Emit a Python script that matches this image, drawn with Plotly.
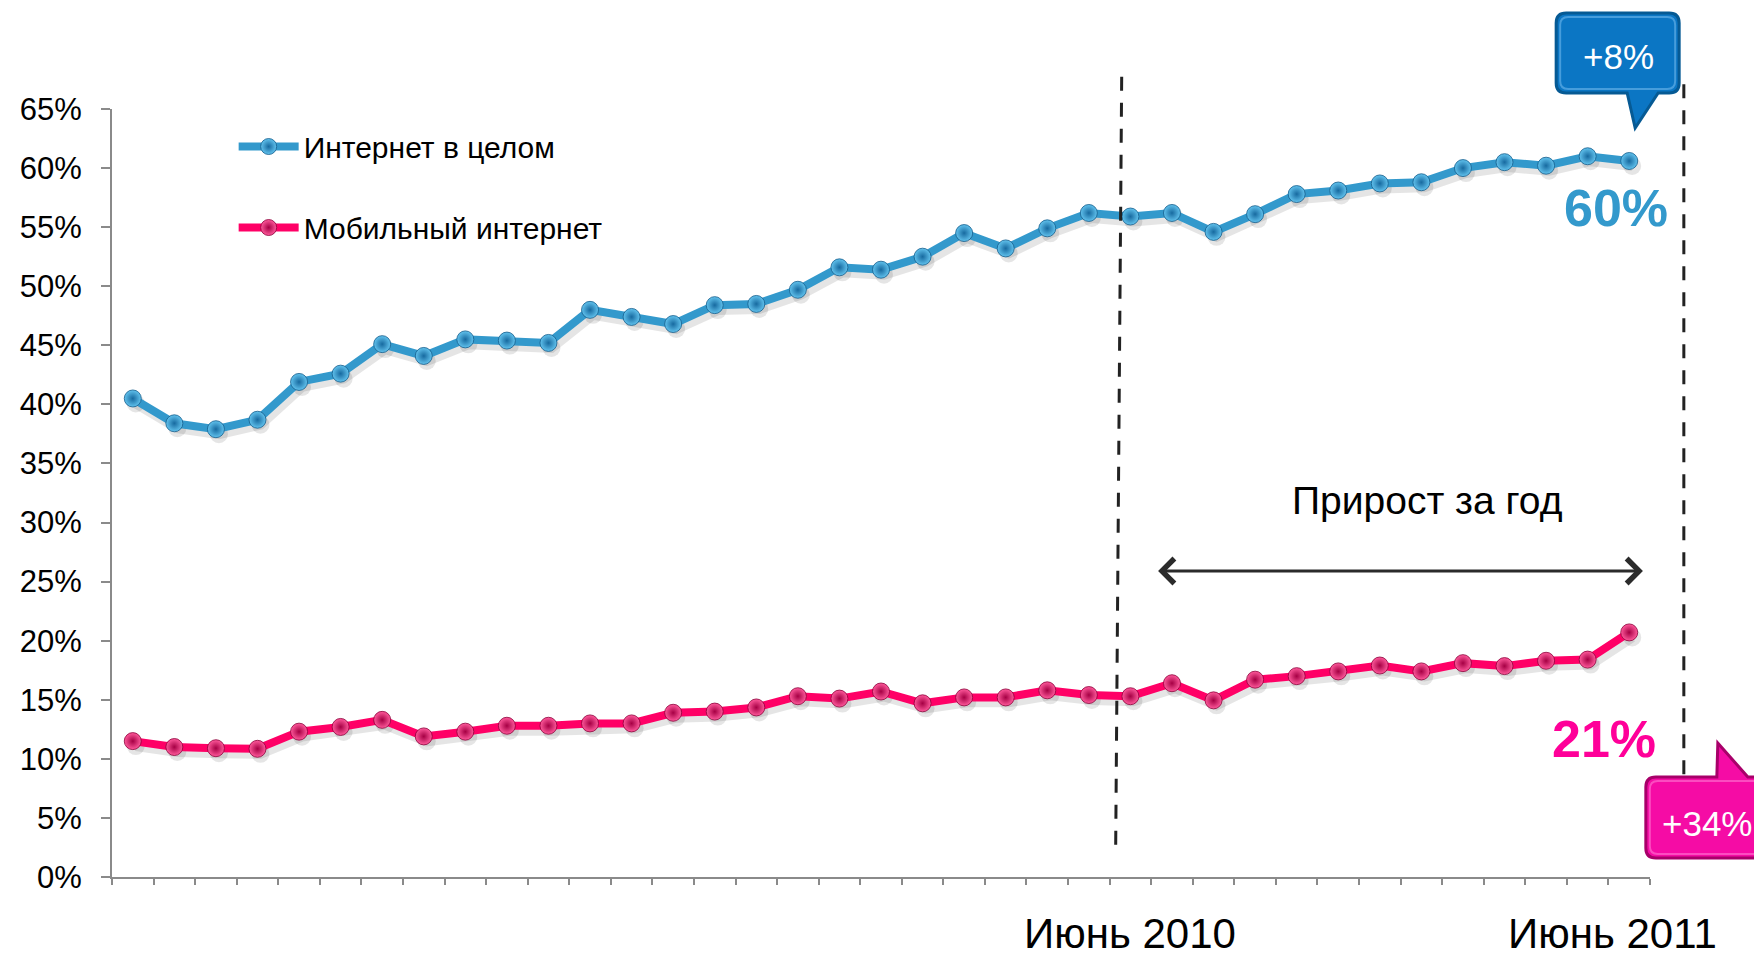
import plotly.graph_objects as go

# monthly points, June 2008 .. June 2011
months = list(range(37))
internet_total = [40.5, 38.4, 37.9, 38.7, 41.9, 42.6, 45.1, 44.1, 45.5, 45.4,
                  45.2, 48.0, 47.4, 46.8, 48.4, 48.5, 49.7, 51.6, 51.4, 52.5,
                  54.5, 53.2, 54.9, 56.2, 55.9, 56.2, 54.6, 56.1, 57.8, 58.1,
                  58.7, 58.8, 60.0, 60.5, 60.2, 61.0, 60.6]
mobile_internet = [11.5, 11.0, 10.9, 10.85, 12.3, 12.7, 13.3, 11.9, 12.3, 12.8,
                   12.8, 13.0, 13.0, 13.9, 14.0, 14.35, 15.3, 15.1, 15.7, 14.7,
                   15.2, 15.2, 15.8, 15.4, 15.3, 16.4, 14.95, 16.7, 17.0, 17.4,
                   17.9, 17.4, 18.1, 17.85, 18.3, 18.4, 20.7]
month_labels = {24: "Июнь 2010", 36: "Июнь 2011"}

FONT = "Liberation Sans, Arial, sans-serif"
BLUE = "#3399CC"
PINK = "#FF0066"
SHADOW = "rgba(0,0,0,0.10)"

fig = go.Figure()
# soft drop shadows: same data on a hidden, slightly shifted axis pair
for ys in (internet_total, mobile_internet):
    fig.add_trace(go.Scatter(
        x=months, y=ys, mode="lines+markers", xaxis="x", yaxis="y",
        showlegend=False, hoverinfo="skip",
        line=dict(color=SHADOW, width=10), marker=dict(size=18, color=SHADOW)))

fig.add_trace(go.Scatter(
    x=months, y=internet_total, mode="lines+markers", name="Интернет в целом",
    legendgroup="a", xaxis="x2", yaxis="y2",
    line=dict(color=BLUE, width=8),
    marker=dict(size=17, color="#62C3EE",
                gradient=dict(type="radial", color="#176AA0"),
                line=dict(color="#145C8A", width=0.8))))
fig.add_trace(go.Scatter(
    x=months, y=mobile_internet, mode="lines+markers", name="Мобильный интернет",
    legendgroup="b", xaxis="x2", yaxis="y2",
    line=dict(color=PINK, width=8),
    marker=dict(size=17, color="#FF5A9C",
                gradient=dict(type="radial", color="#A60044"),
                line=dict(color="#8A0038", width=0.8))))

shapes = []
# dashed year markers
shapes.append(dict(type="line", xref="paper", yref="paper", x0=0.6526, y0=0.042,
                   x1=0.6565, y1=1.043, line=dict(color="#222", width=3, dash="14px,12px")))
shapes.append(dict(type="line", xref="paper", yref="paper", x0=1.022, y0=0.10,
                   x1=1.022, y1=1.043, line=dict(color="#222", width=3, dash="14px,12px")))

# callout bubbles (pixel paths around an anchor)
blue_path = ("M -52,40 L 51,40 Q 61,40 61,30 L 61,-30 Q 61,-40 51,-40 L 40,-40 "
             "L 17,-75 L 9,-40 L -52,-40 Q -62,-40 -62,-30 L -62,30 Q -62,40 -52,40 Z")
blue_rim = ("M -50,36 L 49,36 Q 57,36 57,28 L 57,-28 Q 57,-36 49,-36 "
            "L -50,-36 Q -58,-36 -58,-28 L -58,28 Q -58,36 -50,36 Z")
shapes.append(dict(type="path", xref="paper", yref="paper", xsizemode="pixel",
                   ysizemode="pixel", xanchor=0.9793, yanchor=1.0729, path=blue_path,
                   fillcolor="#0B76C4", line=dict(color="#065A94", width=3)))
shapes.append(dict(type="path", xref="paper", yref="paper", xsizemode="pixel",
                   ysizemode="pixel", xanchor=0.9793, yanchor=1.0729, path=blue_rim,
                   fillcolor="rgba(0,0,0,0)",
                   line=dict(color="rgba(120,190,240,0.55)", width=2)))
pink_path = ("M -50,41 L 11,41 L 12,75 L 42,41 L 60,41 Q 70,41 70,31 L 70,-30 "
             "Q 70,-40 60,-40 L -50,-40 Q -60,-40 -60,-30 L -60,31 Q -60,41 -50,41 Z")
pink_rim = ("M -48,37 L 58,37 Q 66,37 66,29 L 66,-28 Q 66,-36 58,-36 "
            "L -48,-36 Q -56,-36 -56,-28 L -56,29 Q -56,37 -48,37 Z")
shapes.append(dict(type="path", xref="paper", yref="paper", xsizemode="pixel",
                   ysizemode="pixel", xanchor=1.0363, yanchor=0.0768, path=pink_path,
                   fillcolor="#F50CA5", line=dict(color="#A8006A", width=3)))
shapes.append(dict(type="path", xref="paper", yref="paper", xsizemode="pixel",
                   ysizemode="pixel", xanchor=1.0363, yanchor=0.0768, path=pink_rim,
                   fillcolor="rgba(0,0,0,0)",
                   line=dict(color="rgba(255,120,210,0.6)", width=2)))


def label(x, y, text, size, color):
    return dict(x=x, y=y, xref="paper", yref="paper", text=text, showarrow=False,
                xanchor="center", yanchor="middle",
                font=dict(family=FONT, size=size, color=color))


annotations = []
for i, txt in month_labels.items():
    annotations.append(dict(x=i, y=0, xref="x2", yref="paper", text=txt, showarrow=False,
                            xanchor="center", yanchor="middle", yshift=-56,
                            xshift=-17 if i == 36 else 0,
                            font=dict(family=FONT, size=42, color="black")))
annotations.append(label(0.978, 0.871, "<b>60%</b>", 52, BLUE))
annotations.append(label(0.9702, 0.180, "<b>21%</b>", 52, "#FF0099"))
annotations.append(label(0.9793, 1.068, "+8%", 35, "white"))
annotations.append(label(1.0376, 0.070, "+34%", 35, "white"))
annotations.append(label(0.8555, 0.490, "Прирост за год", 39, "black"))
annotations.append(dict(x=36.33, y=25.9, ax=24.63, ay=25.9, xref="x2", yref="y2",
                        axref="x2", ayref="y2", text="", showarrow=True,
                        arrowhead=4, startarrowhead=4, arrowside="end+start",
                        arrowsize=1.6, startarrowsize=1.6, arrowwidth=3,
                        arrowcolor="#2B2B2B", standoff=0, startstandoff=0))

# shadow offset: ~3px right, ~5px down
dx, dy = 0.072, 0.42

# page body adds an 8px margin, so the figure is 8px smaller than the window
fig.update_layout(
    width=1754, height=949,
    margin=dict(l=99, r=112, t=101, b=80),
    paper_bgcolor="white", plot_bgcolor="white",
    font=dict(family=FONT, size=30, color="black"),
    showlegend=True,
    legend=dict(x=0.0791, y=0.985, xanchor="left", yanchor="top",
                bgcolor="rgba(0,0,0,0)", font=dict(size=30),
                tracegroupgap=39, itemwidth=60),
    xaxis=dict(range=[-0.5 - dx, 36.5 - dx], visible=False),
    yaxis=dict(range=[dy, 65 + dy], visible=False),
    xaxis2=dict(overlaying="x", range=[-0.5, 36.5], showgrid=False, zeroline=False,
                showline=True, linecolor="#8A8A8A", linewidth=2,
                ticks="outside", ticklen=6, tickcolor="#8A8A8A", tickwidth=1.5,
                tick0=-0.5, dtick=1, showticklabels=False),
    yaxis2=dict(overlaying="y", range=[0, 65], showgrid=False, zeroline=False,
                showline=True, linecolor="#8A8A8A", linewidth=2,
                ticks="outside", ticklen=9, tickcolor="#8A8A8A", tickwidth=1.5,
                tick0=0, dtick=5, ticksuffix="%", ticklabelstandoff=13,
                tickfont=dict(family=FONT, size=31, color="black")),
    shapes=shapes,
    annotations=annotations,
)

fig.write_html("out.html")
